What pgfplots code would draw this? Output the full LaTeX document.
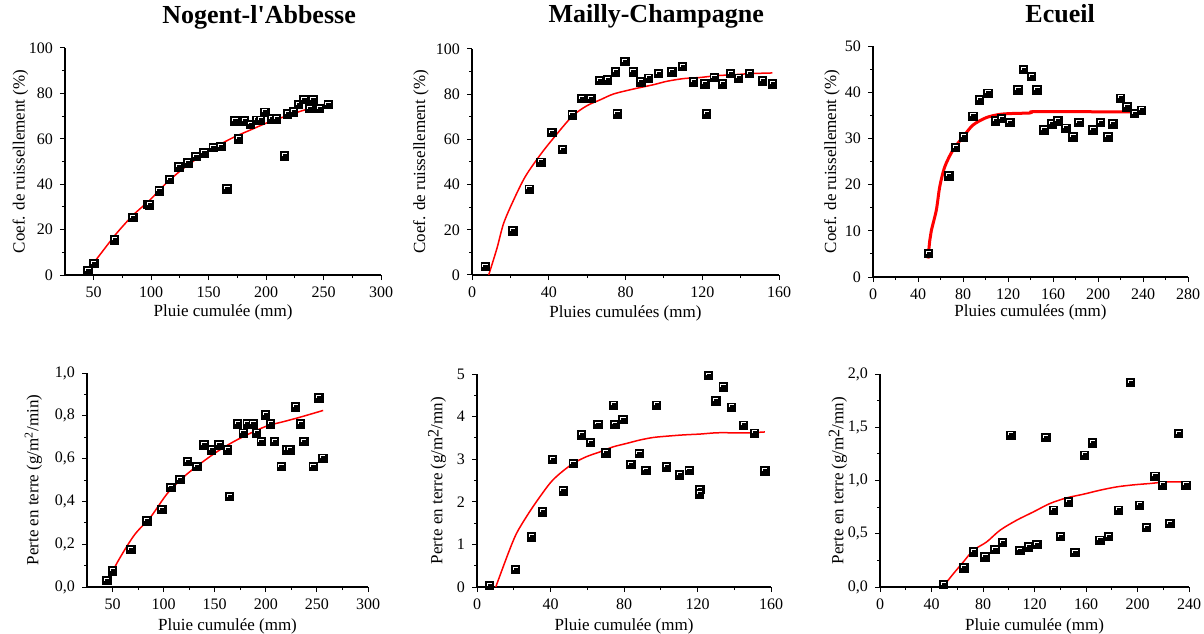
\documentclass[border=0pt]{standalone}
\usepackage{fontspec}
\setmainfont{Liberation Serif}
\usepackage{pgfplots}
\pgfplotsset{compat=1.18}

% black square with a white highlight on top and left
\pgfdeclareplotmark{hsq}{%
  \pgfpathrectangle{\pgfpoint{-\pgfplotmarksize}{-\pgfplotmarksize}}{\pgfpoint{2\pgfplotmarksize}{2\pgfplotmarksize}}%
  \pgfusepathqfillstroke
  \pgfscope
  \pgfsetstrokecolor{white}%
  \pgfsetlinewidth{0.45pt}%
  \pgfpathmoveto{\pgfpoint{-0.55\pgfplotmarksize}{-0.05\pgfplotmarksize}}%
  \pgfpathlineto{\pgfpoint{-0.55\pgfplotmarksize}{0.55\pgfplotmarksize}}%
  \pgfpathlineto{\pgfpoint{0.6\pgfplotmarksize}{0.55\pgfplotmarksize}}%
  \pgfusepathqstroke
  \endpgfscope
}

\pgfplotsset{
  panel/.style={
    scale only axis, anchor=south west,
    axis lines*=left, tick align=outside,
    axis line style={line width=0.65pt},
    major tick length=2.5pt, minor tick length=1.5pt,
    every tick/.style={black, line width=0.5pt},
    minor x tick num=1, minor y tick num=1,
    tick label style={font=\fontsize{8}{9}\selectfont},
    label style={font=\fontsize{8.5}{10}\selectfont},
    xlabel style={anchor=base},
    ylabel style={anchor=center},
    title style={font=\fontsize{13}{15}\selectfont\bfseries, anchor=base},
    /pgf/number format/assume math mode=true,
  },
  commay/.style={yticklabel style={/pgf/number format/.cd, use comma, fixed, fixed zerofill, precision=1}},
  pts/.style={only marks, mark=hsq, mark size=2.1pt, draw=black, fill=black, mark options={line width=0.4pt}},
  fit/.style={red, line width=0.75pt, mark=none, smooth},
}

\begin{document}
\begin{tikzpicture}
\useasboundingbox (0,0) rectangle (602pt,316.5pt);

% ---------- Nogent-l'Abbesse, runoff ----------
\begin{axis}[panel, at={(32.5pt,179pt)}, width=158pt, height=113.5pt,
  xmin=25, xmax=300, ymin=0, ymax=100,
  xtick={50,100,150,200,250,300}, ytick={0,20,40,60,80,100},
  title={Nogent-l\textquotesingle Abbesse}, title style={at={(axis description cs:0.614,1.057)}},
  xlabel={Pluie cumulée (mm)}, xlabel style={at={(axis description cs:0.5,-0.185)}},
  ylabel={Coef. de ruissellement (\%)}, ylabel style={at={(axis description cs:-0.141,0.5)}}]
\addplot[fit] coordinates {(44.2,1.5) (55.2,8.8) (69.8,18.3) (84.3,26.4) (98.8,33.0) (113.4,40.6)
  (127.9,46.9) (142.4,52.1) (157.0,56.7) (171.5,60.6) (186.0,63.8) (200.6,67.0) (215.1,69.6)
  (229.7,72.1) (244.2,74.3) (255.8,75.8)};
\addplot[pts] coordinates {(45,2) (50,5) (68,15.4) (84,25.4) (97,31.2) (98.5,30.8) (107,37.1)
  (116,42.1) (124,47.7) (132,49.4) (139,52.2) (146,53.8) (154,56.2) (160.5,56.7) (166,38)
  (173,67.8) (176,60) (181,67.8) (186.5,66.4) (192,68.2) (195,68.2) (199,71.7) (205,68.8)
  (209,68.8) (216,52.5) (218.5,71) (224,71.8) (228,75.2) (233,77.3) (238,73.3) (241,77.3)
  (246.5,73.3) (254,75.2)};
\end{axis}

% ---------- Mailly-Champagne, runoff ----------
\begin{axis}[panel, at={(236pt,179pt)}, width=153.5pt, height=113pt,
  xmin=0, xmax=160, ymin=0, ymax=100,
  xtick={0,40,80,120,160}, ytick={0,20,40,60,80,100},
  title={Mailly-Champagne}, title style={at={(axis description cs:0.60,1.062)}},
  xlabel={Pluies cumulées (mm)}, xlabel style={at={(axis description cs:0.5,-0.186)}},
  ylabel={Coef. de ruissellement (\%)}, ylabel style={at={(axis description cs:-0.166,0.5)}}]
\addplot[fit] coordinates {(8.7,0) (13.0,11.8) (16.5,22.9) (21.7,33.2) (27.8,43.6) (35.6,53.2)
  (42.5,60.6) (52.2,70.2) (59.9,74.9) (66.8,77.5) (73.8,80.1) (84.2,82.3) (94.6,84.2)
  (101.5,85.7) (110.2,86.9) (118.9,87.4) (127.5,88.2) (136.2,88.6) (144.9,89.1) (156.5,89.4)};
\addplot[pts] coordinates {(6.9,3.7) (21.3,19.6) (29.8,38.0) (35.9,49.9) (41.6,63.1) (47.2,55.5)
  (52.2,70.8) (57.3,78.1) (62.0,78.1) (66.5,86.0) (70.6,86.4) (74.8,89.8) (75.7,71.2)
  (79.7,94.5) (84.0,89.8) (88.0,85.4) (92.0,87.1) (97.2,89.1) (104.1,89.8) (109.8,92.3)
  (115.4,85.4) (121.3,84.5) (122.3,71.2) (126.2,87.4) (130.5,84.5) (134.8,89.1) (138.8,87.1)
  (144.7,89.1) (151.5,85.8) (156.5,84.5)};
\end{axis}

% ---------- Ecueil, runoff ----------
\begin{axis}[panel, at={(436.5pt,178pt)}, width=157.5pt, height=115.5pt,
  xmin=0, xmax=280, ymin=0, ymax=50,
  xtick={0,40,80,120,160,200,240,280}, ytick={0,10,20,30,40,50},
  title={Ecueil}, title style={at={(axis description cs:0.594,1.048)}},
  xlabel={Pluies cumulées (mm)}, xlabel style={at={(axis description cs:0.5,-0.173)}},
  ylabel={Coef. de ruissellement (\%)}, ylabel style={at={(axis description cs:-0.130,0.5)}}]
\addplot[fit, line width=1.5pt] coordinates {(48.9,4.0) (50.5,8.0) (51.9,10.1) (56.3,14.5)
  (59.3,19.5) (63.7,23.8) (71.1,27.5) (80,30.3) (88.9,32.9) (100.7,34.5) (112.6,35.2)
  (124.4,35.4) (139.3,35.5) (142.2,35.8) (171.9,35.8) (240,35.7)};
\addplot[pts] coordinates {(49.5,5.1) (67.3,21.9) (73.5,28.0) (80.6,30.3) (88.9,34.8) (94.8,38.3)
  (102.2,39.8) (109.0,33.8) (114.1,34.3) (121.5,33.4) (128.9,40.5) (133.9,44.9) (140.7,43.4)
  (145.8,40.5) (152.0,31.8) (159.1,33.1) (164.4,33.8) (171.3,32.2) (177.8,30.3) (183.1,33.4)
  (195.6,31.8) (202.1,33.4) (208.9,30.3) (213.3,33.1) (219.9,38.7) (225.8,36.8) (232.6,35.4)
  (238.5,36.1)};
\end{axis}

% ---------- Nogent-l'Abbesse, soil loss ----------
\begin{axis}[panel, commay, at={(43.5pt,23pt)}, width=140.5pt, height=107pt,
  xmin=25, xmax=300, ymin=0, ymax=1,
  xtick={50,100,150,200,250,300}, ytick={0,0.2,0.4,0.6,0.8,1},
  xlabel={Pluie cumulée (mm)}, xlabel style={at={(axis description cs:0.5,-0.201)}},
  ylabel={Perte en terre (g/m\textsuperscript{2}/min)}, ylabel style={at={(axis description cs:-0.191,0.5)}}]
\addplot[fit] coordinates {(44.5,0.016) (54.9,0.117) (71.2,0.242) (87.4,0.328) (103.7,0.4375)
  (120,0.516) (136.3,0.578) (152.5,0.633) (168.8,0.680) (185.1,0.719) (201.4,0.753)
  (217.6,0.773) (233.9,0.794) (256.1,0.825)};
\addplot[pts] coordinates {(44.5,0.031) (50,0.075) (67.9,0.175) (83.5,0.309) (98.2,0.3625)
  (107.0,0.466) (115.8,0.503) (123.2,0.586) (132.4,0.5625) (139.5,0.664) (147.0,0.641)
  (154.2,0.664) (162.3,0.641) (164.5,0.422) (172.1,0.7625) (177.9,0.719) (181.8,0.7625)
  (187.7,0.7625) (190.9,0.719) (195.5,0.680) (199.7,0.805) (204.6,0.7625) (208.5,0.680)
  (215.0,0.5625) (220.2,0.641) (223.5,0.641) (229.0,0.841) (233.9,0.7625) (237.2,0.680)
  (246.3,0.5625) (251.8,0.883) (255.7,0.602)};
\end{axis}

% ---------- Mailly-Champagne, soil loss ----------
\begin{axis}[panel, at={(238.5pt,23pt)}, width=147pt, height=106.5pt,
  xmin=0, xmax=160, ymin=0, ymax=5,
  xtick={0,40,80,120,160}, ytick={0,1,2,3,4,5},
  xlabel={Pluie cumulée (mm)}, xlabel style={at={(axis description cs:0.5,-0.202)}},
  ylabel={Perte en terre (g/m\raisebox{0.5ex}{\fontsize{8}{9}\selectfont 2}/mn)}, ylabel style={at={(axis description cs:-0.136,0.5)}}]
\addplot[fit] coordinates {(10.2,0) (16.9,0.78) (21.4,1.25) (26.9,1.65) (32.3,2.0) (39.6,2.43)
  (45.0,2.66) (52.3,2.90) (59.6,3.06) (66.8,3.17) (74.1,3.29) (81.4,3.37) (88.6,3.45)
  (95.9,3.51) (103.2,3.54) (112.2,3.57) (121.3,3.59) (130.4,3.62) (139.5,3.62) (148.6,3.62)
  (156.7,3.64)};
\addplot[pts] coordinates {(6.9,0.04) (20.9,0.41) (29.6,1.18) (35.6,1.76) (41.0,2.99) (46.9,2.26)
  (52.3,2.90) (56.8,3.57) (61.8,3.39) (65.9,3.82) (70.1,3.15) (74.3,4.27) (75.0,3.82)
  (79.5,3.93) (83.7,2.88) (88.3,3.13) (91.9,2.74) (97.7,4.27) (103.2,2.82) (110.1,2.63)
  (115.5,2.74) (121.3,2.29) (121.0,2.19) (125.9,4.97) (130.0,4.37) (134.0,4.70) (138.6,4.22)
  (144.9,3.80) (150.9,3.61) (156.7,2.73)};
\end{axis}

% ---------- Ecueil, soil loss ----------
\begin{axis}[panel, commay, at={(440pt,23pt)}, width=154.5pt, height=106.5pt,
  xmin=0, xmax=240, ymin=0, ymax=2,
  xtick={0,40,80,120,160,200,240}, ytick={0,0.5,1,1.5,2},
  xlabel={Pluie cumulée (mm)}, xlabel style={at={(axis description cs:0.5,-0.202)}},
  ylabel={Perte en terre (g/m\raisebox{0.5ex}{\fontsize{8}{9}\selectfont 2}/mn)}, ylabel style={at={(axis description cs:-0.136,0.5)}}]
\addplot[fit] coordinates {(48.7,0) (57,0.125) (64.7,0.235) (72.5,0.345) (82.8,0.423) (93.2,0.533)
  (106.1,0.627) (119.1,0.705) (132,0.784) (145,0.837) (157.9,0.871) (170.9,0.909)
  (183.8,0.94) (196.8,0.959) (209.7,0.972) (222.7,0.987) (238.2,0.987)};
\addplot[pts] coordinates {(49.2,0.022) (65.2,0.179) (72.5,0.329) (81.6,0.282) (89.3,0.351)
  (95,0.417) (101.7,1.426) (108.7,0.345) (115.2,0.376) (121.7,0.401) (128.9,1.404)
  (134.6,0.721) (140.3,0.476) (146.3,0.799) (151.5,0.323) (158.7,1.238) (164.9,1.354)
  (170.9,0.439) (177.3,0.476) (185.1,0.721) (194.7,1.922) (201.4,0.768) (207.1,0.558)
  (213.6,1.041) (219.5,0.956) (225.2,0.596) (231.7,1.442) (237.7,0.956)};
\end{axis}
\end{tikzpicture}
\end{document}
